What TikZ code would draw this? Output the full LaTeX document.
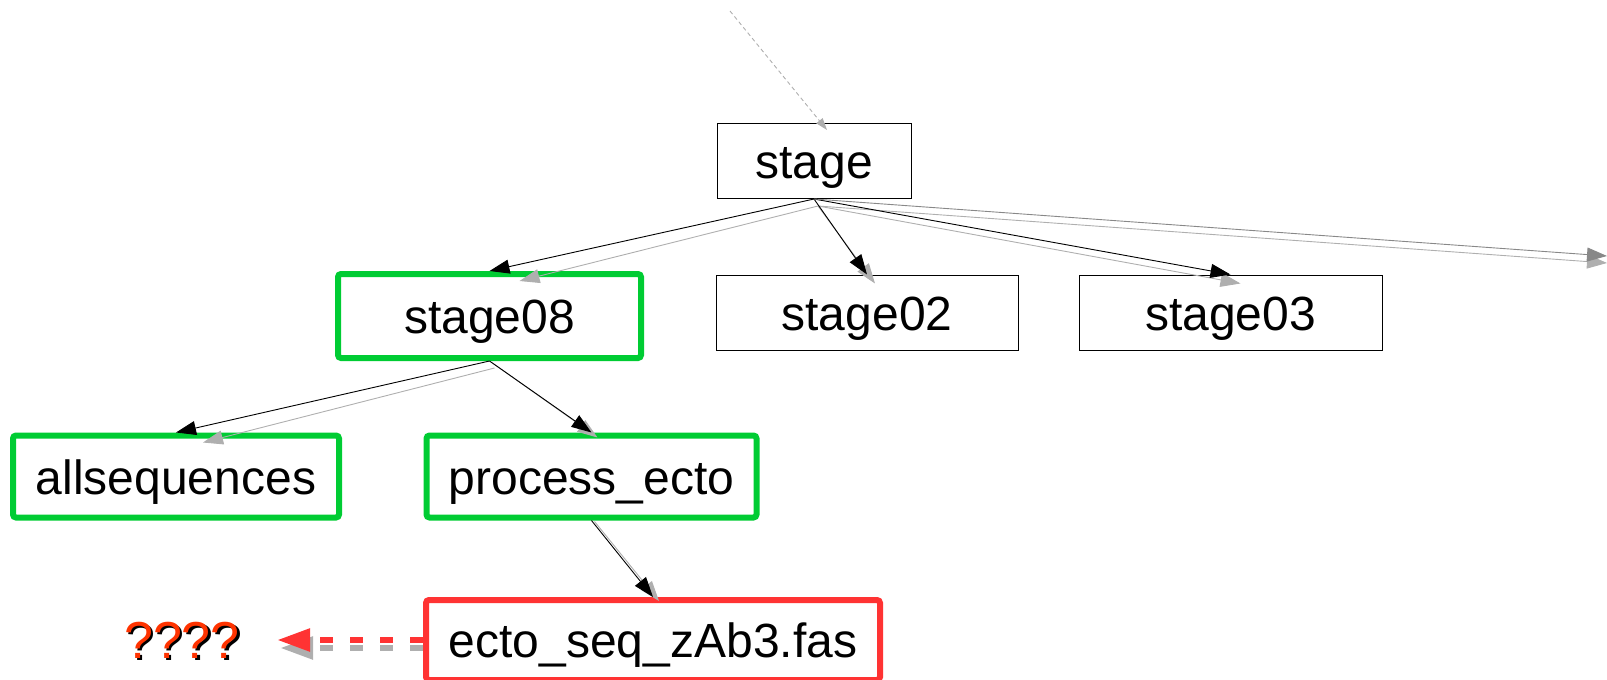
\documentclass[tikz,border=0pt]{standalone}
\usepackage{fontspec}
\setmainfont{Liberation Sans}
\usetikzlibrary{arrows.meta, positioning}

\definecolor{okgreen}{RGB}{0,204,51}
\definecolor{badred}{RGB}{255,51,51}
\definecolor{qred}{RGB}{255,51,0}
\definecolor{shade}{RGB}{175,175,175}
\definecolor{edgegray}{RGB}{136,136,136}

\begin{document}
\begin{tikzpicture}[
x=0.5pt, y=-0.5pt,
file/.style={rectangle, draw, line width=0.5pt, inner sep=0pt, minimum height=37.5pt, text height=20pt, text depth=2.5pt, font=\fontsize{24}{28}\selectfont},
done/.style={file, draw=okgreen, line width=3pt, rounded corners=1.5pt, minimum height=41pt},
failed/.style={file, draw=badred, line width=3pt, rounded corners=1.5pt, minimum height=40pt},
qmark/.style={inner sep=0pt, font=\fontsize{26}{30}\selectfont},
link/.style={line width=0.45pt, -{Triangle[length=10pt,width=7pt]}},
linkshadow/.style={link, color=shade},
redlink/.style={line width=3pt, color=badred, dash pattern=on 6.5pt off 8.5pt, -{Triangle[length=16.5pt,width=11pt]}, shorten >=18.5pt},
redshadow/.style={redlink, color=shade}
]
\useasboundingbox (0,0) rectangle (1607,680);

\node (stage) [file, minimum width=97pt] at (814,161) {stage};
\node (stage08) [done, minimum width=151.5pt, minimum height=42pt] at (489.5,316) {stage08};
\node (stage02) [file, minimum width=151pt] at (867,312.5) {stage02};
\node (stage03) [file, minimum width=151.5pt, right=30pt of stage02] {stage03};
\node (allseq) [done, minimum width=163pt] at (176,476.5) {allsequences};
\node (process) [done, minimum width=165pt] at (591.5,476.5) {process\_ecto};
\node (ecto) [failed, minimum width=227pt] at (653,640) {ecto\_seq\_zAb3.fas};

\node (qshadow) [qmark] at (184.5,642.5) {????};
\node (qmarks) [qmark, text=qred] at (182,640) {????};

\coordinate (parent) at (730,11);
\coordinate (offright) at (1607,256);

% shadows first
\draw [linkshadow, dash pattern=on 2pt off 1.5pt, -{Triangle[length=6pt,width=4pt]}] (parent) -- ([shift={(13,7)}]stage.north);
\draw [linkshadow] ([shift={(4,7)}]stage.south) -- ([shift={(30,10)}]stage08.north);
\draw [linkshadow] ([shift={(4,7)}]stage.south) -- ([shift={(8,9)}]stage02.north);
\draw [linkshadow] ([shift={(4,7)}]stage.south) -- ([shift={(10,9)}]stage03.north);
\draw [linkshadow] ([shift={(4,7)}]stage.south) -- ([shift={(0,7)}]offright);
\draw [linkshadow] ([shift={(5,7)}]stage08.south) -- ([shift={(27,10)}]allseq.north);
\draw [linkshadow] ([shift={(3,2)}]stage08.south) -- ([shift={(6,5)}]process.north);
\draw [linkshadow] ([shift={(3,1)}]process.south) -- ([shift={(6,4)}]ecto.north);
\draw [redshadow] ([shift={(0,8)}]ecto.west) -- ([shift={(3,8)}]qmarks.east);

\draw [link] (stage.south) -- (stage08.north);
\draw [link] (stage.south) -- (stage02.north);
\draw [link] (stage.south) -- (stage03.north);
\draw [link, color=edgegray] (stage.south) -- (offright);
\draw [link] (stage08.south) -- (allseq.north);
\draw [link] (stage08.south) -- (process.north);
\draw [link] (process.south) -- (ecto.north);
\draw [redlink] (ecto.west) -- (qmarks.east);

\end{tikzpicture}
\end{document}
